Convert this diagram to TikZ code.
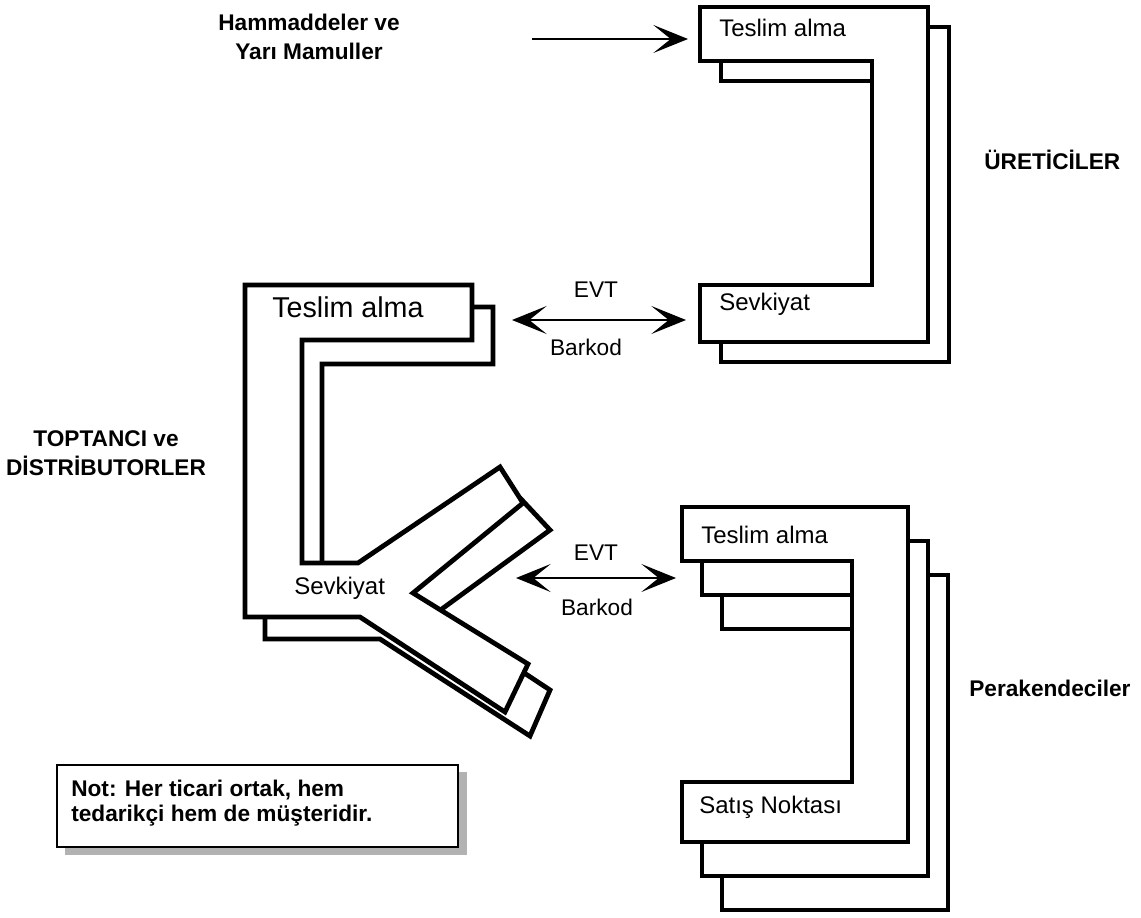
\documentclass[tikz,border=0pt]{standalone}
\usepackage{fontspec}
\setmainfont{Liberation Sans}
\usetikzlibrary{arrows.meta}
\begin{document}
\begin{tikzpicture}[x=0.75pt,y=0.75pt,yscale=-1,xscale=1,
  shp/.style={draw, line width=3.6pt, fill=white},
  lab/.style={inner sep=0.75pt, font=\fontsize{18}{20}\selectfont},
  head/.style={inner sep=0.75pt, font=\fontsize{17}{22}\selectfont\bfseries, align=center},
  barb/.style={line width=1.6pt, {Stealth[length=26pt,width=21pt,inset=13pt]}-{Stealth[length=26pt,width=21pt,inset=13pt]}},
  onebarb/.style={line width=1.6pt, -{Stealth[length=26pt,width=21pt,inset=13pt]}}]
\useasboundingbox (0,0) rectangle (1141,917);
%Shape: producer shadow
\draw [shp] (721,27) -- (949,27) -- (949,362) -- (721,362) -- (721,305) -- (893,305) -- (893,81) -- (721,81) -- cycle ;
%Shape: producer front
\draw [shp] (700,7) -- (928,7) -- (928,342) -- (700,342) -- (700,285) -- (872,285) -- (872,61) -- (700,61) -- cycle ;
%Shape: wholesaler shadow
\draw [shp] (265,307) -- (493,307) -- (493,364) -- (322,364) -- (322,585) -- (378,585) -- (521,499) -- (550,530) -- (435,614) -- (550,690) -- (530,736) -- (380,639) -- (265,639) -- cycle ;
%Shape: wholesaler front
\draw [shp] (245,285) -- (472,285) -- (472,340) -- (302,340) -- (302,563) -- (358,563) -- (500,467) -- (523,503) -- (413,593) -- (528,664) -- (505,712) -- (360,617) -- (245,617) -- cycle ;
%Shape: retailer shadow 2
\draw [shp] (722,575) -- (948,575) -- (948,910) -- (722,910) -- (722,850) -- (892,850) -- (892,629) -- (722,629) -- cycle ;
%Shape: retailer shadow 1
\draw [shp] (702,541) -- (928,541) -- (928,876) -- (702,876) -- (702,816) -- (872,816) -- (872,595) -- (702,595) -- cycle ;
%Shape: retailer front
\draw [shp] (682,507) -- (908,507) -- (908,842) -- (682,842) -- (682,782) -- (852,782) -- (852,561) -- (682,561) -- cycle ;
%Shape: note box
\fill [gray!60] (65,772) rectangle (467,855) ;
\draw [line width=1.6pt, fill=white] (57,765) rectangle (458,847) ;
% Text Node
\draw (309,37) node (raw) [head] {Hammaddeler ve\\Yarı Mamuller};
% Text Node
\draw (718,28) node (prodIn) [lab, anchor=west] {Teslim alma};
% Text Node
\draw (718,304) node (prodOut) [lab, anchor=west] {Sevkiyat};
% Text Node
\draw (983,160) node (prodName) [head, anchor=west] {ÜRETİCİLER};
% Text Node
\draw (271,307) node (wsIn) [lab, anchor=west, font=\fontsize{21.5}{24}\selectfont] {Teslim alma};
% Text Node
\draw (293,588) node (wsOut) [lab, anchor=west] {Sevkiyat};
% Text Node
\draw (106,453) node (wsName) [head] {TOPTANCI ve\\DİSTRİBUTORLER};
% Text Node
\draw (700,535) node (rtIn) [lab, anchor=west] {Teslim alma};
% Text Node
\draw (698,807) node (rtOut) [lab, anchor=west] {Satış Noktası};
% Text Node
\draw (968,688) node (rtName) [head, anchor=west] {Perakendeciler};
% Text Node
\draw (596,290) node (evtA) [lab, font=\fontsize{17}{18}\selectfont] {EVT};
% Text Node
\draw (586,347) node (barA) [lab, font=\fontsize{17}{18}\selectfont] {Barkod};
% Text Node
\draw (596,553) node (evtB) [lab, font=\fontsize{17}{18}\selectfont] {EVT};
% Text Node
\draw (597,607) node (barB) [lab, font=\fontsize{17}{18}\selectfont] {Barkod};
% Text Node
\draw (70,803) node (note) [head, anchor=west, align=left, font=\fontsize{17}{19}\selectfont\bfseries] {Not: Her ticari ortak, hem\\tedarikçi hem de müşteridir.};
%Straight Lines
\coordinate (rawL) at (532,39);
\coordinate (rawR) at (688,39);
\draw [onebarb] (rawL) -- (rawR) ;
%Straight Lines
\coordinate (edA1) at (512,320);
\coordinate (edA2) at (686,320);
\draw [barb] (edA1) -- (edA2) ;
%Straight Lines
\coordinate (edB1) at (516,578);
\coordinate (edB2) at (676,578);
\draw [barb] (edB1) -- (edB2) ;
\end{tikzpicture}
\end{document}
